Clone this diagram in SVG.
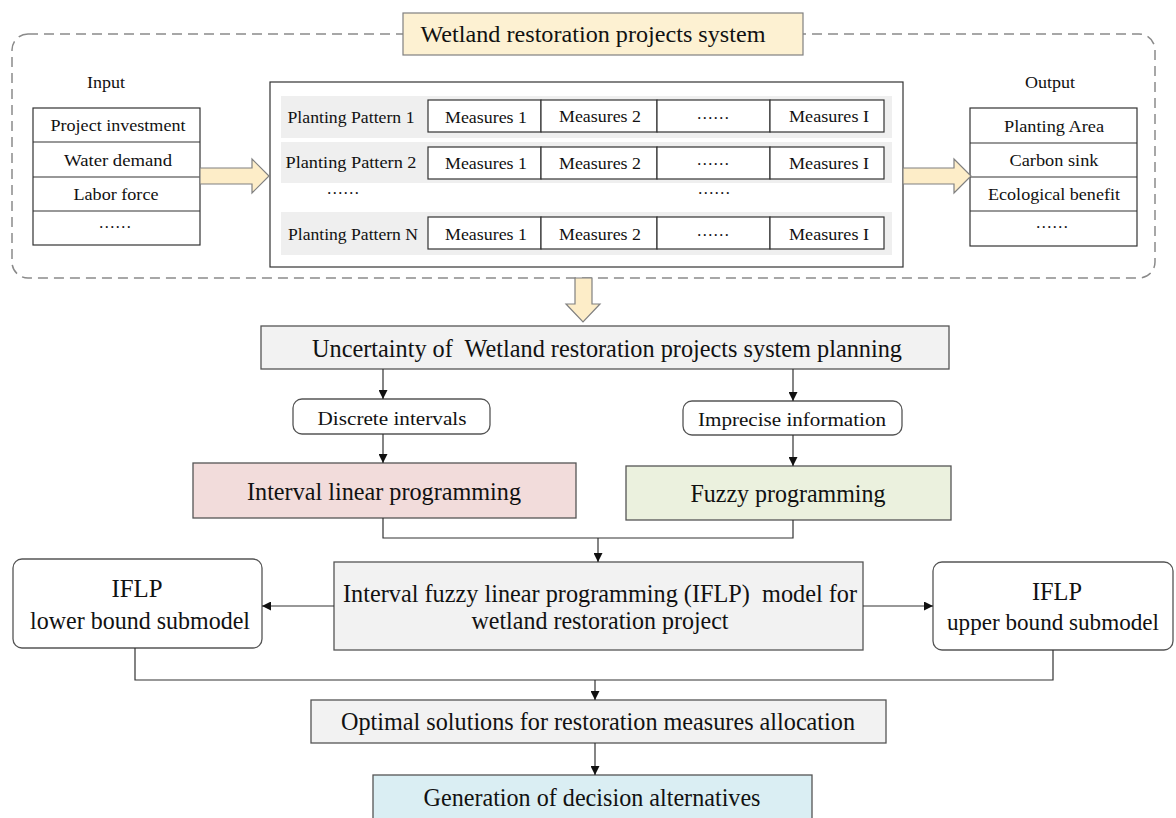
<svg xmlns="http://www.w3.org/2000/svg" width="1176" height="818" viewBox="0 0 1176 818">
<style>
text{font-family:"Liberation Serif","Times New Roman",serif;fill:#111;text-anchor:middle;dominant-baseline:central}
.s{font-size:17px}
.m{font-size:19px}
.l{font-size:23px}
.xl{font-size:26px}
.box{stroke:#555;stroke-width:1.3}
.cell{fill:#fff;stroke:#333;stroke-width:1.2}
.row{fill:#efefef}
.fat{fill:#fdedc8;stroke:#808080;stroke-width:1.2}
.con{fill:none;stroke:#333;stroke-width:1.2}
.pre{white-space:pre}
</style>
<defs>
<marker id="ah" viewBox="0 0 10 10" refX="10" refY="5" markerWidth="9" markerHeight="9" markerUnits="userSpaceOnUse" orient="auto">
<path d="M0,0 L10,5 L0,10 z" fill="#111"/>
</marker>
</defs>
<rect width="1176" height="818" fill="#fff"/>

<g id="system-frame">
<rect x="12" y="34" width="1143" height="244" rx="16" fill="none" stroke="#8a8a8a" stroke-width="1.5" stroke-dasharray="10,6"/>
</g>

<g id="title">
<rect x="403" y="13" width="400" height="42" class="fat" style="fill:#fdf1d2"/>
<text x="593" y="34" class="l" textLength="345" lengthAdjust="spacingAndGlyphs">Wetland restoration projects system</text>
</g>

<g id="input">
<text x="106" y="82" class="s" textLength="38" lengthAdjust="spacingAndGlyphs">Input</text>
<rect x="33" y="108" width="167" height="137" class="cell"/>
<line x1="33" y1="142" x2="200" y2="142" stroke="#333" stroke-width="1.2"/>
<line x1="33" y1="177" x2="200" y2="177" stroke="#333" stroke-width="1.2"/>
<line x1="33" y1="211" x2="200" y2="211" stroke="#333" stroke-width="1.2"/>
<text x="118" y="125" class="s" textLength="135" lengthAdjust="spacingAndGlyphs">Project investment</text>
<text x="118" y="160" class="s" textLength="108" lengthAdjust="spacingAndGlyphs">Water demand</text>
<text x="116" y="194" class="s" textLength="85" lengthAdjust="spacingAndGlyphs">Labor force</text>
<text x="115" y="222" class="s" textLength="33" lengthAdjust="spacingAndGlyphs">……</text>
</g>

<g id="patterns">
<rect x="270" y="82" width="633" height="185" fill="#fff" stroke="#333" stroke-width="1.2"/>
<rect x="281" y="96" width="611" height="42" class="row"/>
<rect x="281" y="142" width="611" height="41" class="row"/>
<rect x="281" y="212" width="611" height="43" class="row"/>
<text x="351" y="117" class="s" textLength="127" lengthAdjust="spacingAndGlyphs">Planting Pattern 1</text>
<text x="351" y="162" class="s" textLength="131" lengthAdjust="spacingAndGlyphs">Planting Pattern 2</text>
<text x="353" y="234" class="s" textLength="130" lengthAdjust="spacingAndGlyphs">Planting Pattern N</text>
<text x="343" y="188" class="s" textLength="33" lengthAdjust="spacingAndGlyphs">……</text>
<text x="714" y="188" class="s" textLength="33" lengthAdjust="spacingAndGlyphs">……</text>
<g id="row1">
<rect x="428" y="100" width="113" height="32" class="cell"/>
<rect x="541" y="100" width="116" height="32" class="cell"/>
<rect x="657" y="100" width="113" height="32" class="cell"/>
<rect x="770" y="100" width="114" height="32" class="cell"/>
<text x="486" y="117" class="s" textLength="82" lengthAdjust="spacingAndGlyphs">Measures 1</text>
<text x="600" y="116" class="s" textLength="82" lengthAdjust="spacingAndGlyphs">Measures 2</text>
<text x="713" y="113" class="s" textLength="33" lengthAdjust="spacingAndGlyphs">……</text>
<text x="829" y="116" class="s" textLength="80" lengthAdjust="spacingAndGlyphs">Measures I</text>
</g>
<g id="row2">
<rect x="428" y="147" width="113" height="32" class="cell"/>
<rect x="541" y="147" width="116" height="32" class="cell"/>
<rect x="657" y="147" width="113" height="32" class="cell"/>
<rect x="770" y="147" width="114" height="32" class="cell"/>
<text x="486" y="163" class="s" textLength="82" lengthAdjust="spacingAndGlyphs">Measures 1</text>
<text x="600" y="163" class="s" textLength="82" lengthAdjust="spacingAndGlyphs">Measures 2</text>
<text x="713" y="159" class="s" textLength="33" lengthAdjust="spacingAndGlyphs">……</text>
<text x="829" y="163" class="s" textLength="80" lengthAdjust="spacingAndGlyphs">Measures I</text>
</g>
<g id="rowN">
<rect x="428" y="217" width="113" height="32" class="cell"/>
<rect x="541" y="217" width="116" height="32" class="cell"/>
<rect x="657" y="217" width="113" height="32" class="cell"/>
<rect x="770" y="217" width="114" height="32" class="cell"/>
<text x="486" y="234" class="s" textLength="82" lengthAdjust="spacingAndGlyphs">Measures 1</text>
<text x="600" y="234" class="s" textLength="82" lengthAdjust="spacingAndGlyphs">Measures 2</text>
<text x="713" y="230" class="s" textLength="33" lengthAdjust="spacingAndGlyphs">……</text>
<text x="829" y="234" class="s" textLength="80" lengthAdjust="spacingAndGlyphs">Measures I</text>
</g>
</g>

<g id="output">
<text x="1050" y="82" class="s" textLength="50" lengthAdjust="spacingAndGlyphs">Output</text>
<rect x="970" y="108" width="167" height="138" class="cell"/>
<line x1="970" y1="143" x2="1137" y2="143" stroke="#333" stroke-width="1.2"/>
<line x1="970" y1="177" x2="1137" y2="177" stroke="#333" stroke-width="1.2"/>
<line x1="970" y1="211" x2="1137" y2="211" stroke="#333" stroke-width="1.2"/>
<text x="1054" y="126" class="s" textLength="100" lengthAdjust="spacingAndGlyphs">Planting Area</text>
<text x="1054" y="160" class="s" textLength="89" lengthAdjust="spacingAndGlyphs">Carbon sink</text>
<text x="1054" y="194" class="s" textLength="132" lengthAdjust="spacingAndGlyphs">Ecological benefit</text>
<text x="1052" y="222" class="s" textLength="33" lengthAdjust="spacingAndGlyphs">……</text>
</g>

<g id="uncertainty">
<rect x="261" y="326" width="688" height="43" class="box" fill="#f2f2f2"/>
<text x="607" y="348" class="xl pre" textLength="590" lengthAdjust="spacingAndGlyphs">Uncertainty of  Wetland restoration projects system planning</text>
</g>
<g id="discrete">
<rect x="293" y="399" width="197" height="35" rx="9" fill="#fff" class="box"/>
<text x="392" y="418" class="m" textLength="149" lengthAdjust="spacingAndGlyphs">Discrete intervals</text>
</g>
<g id="imprecise">
<rect x="683" y="401" width="219" height="34" rx="9" fill="#fff" class="box"/>
<text x="792" y="419" class="m" textLength="188" lengthAdjust="spacingAndGlyphs">Imprecise information</text>
</g>
<g id="interval-lp">
<rect x="193" y="463" width="383" height="55" class="box" fill="#f2dcdb"/>
<text x="384" y="491" class="xl" textLength="274" lengthAdjust="spacingAndGlyphs">Interval linear programming</text>
</g>
<g id="fuzzy">
<rect x="626" y="466" width="325" height="54" class="box" fill="#ebf1de"/>
<text x="788" y="493" class="xl" textLength="195" lengthAdjust="spacingAndGlyphs">Fuzzy programming</text>
</g>
<g id="iflp">
<rect x="334" y="562" width="529" height="88" class="box" fill="#f2f2f2"/>
<text x="600" y="593" class="xl pre" textLength="514" lengthAdjust="spacingAndGlyphs">Interval fuzzy linear programming (IFLP)  model for</text>
<text x="600" y="620" class="xl" textLength="257" lengthAdjust="spacingAndGlyphs">wetland restoration project</text>
</g>
<g id="lower">
<rect x="13" y="559" width="249" height="89" rx="9" fill="#fff" class="box"/>
<text x="137" y="588" class="xl" textLength="51" lengthAdjust="spacingAndGlyphs">IFLP</text>
<text x="140" y="620" class="xl" textLength="220" lengthAdjust="spacingAndGlyphs">lower bound submodel</text>
</g>
<g id="upper">
<rect x="933" y="562" width="240" height="88" rx="9" fill="#fff" class="box"/>
<text x="1057" y="591" class="xl" textLength="50" lengthAdjust="spacingAndGlyphs">IFLP</text>
<text x="1053" y="622" style="font-size:23px" textLength="212" lengthAdjust="spacingAndGlyphs">upper bound submodel</text>
</g>
<g id="optimal">
<rect x="311" y="700" width="575" height="43" class="box" fill="#f2f2f2"/>
<text x="598" y="721" class="xl" textLength="514" lengthAdjust="spacingAndGlyphs">Optimal solutions for restoration measures allocation</text>
</g>
<g id="generation">
<rect x="373" y="775" width="439" height="50" class="box" fill="#daeef3"/>
<text x="592" y="797" class="xl" textLength="337" lengthAdjust="spacingAndGlyphs">Generation of decision alternatives</text>
</g>

<g id="connectors">
<path class="fat" d="M200,168 H252 V159 L269,176 L252,193 V184 H200 Z"/>
<path class="fat" d="M903,168 H954 V159 L971,176 L954,193 V184 H903 Z"/>
<path class="fat" d="M575,278 H592 V304 H600 L583,322 L566,304 H575 Z"/>
<line x1="383" y1="369" x2="383" y2="399" class="con" marker-end="url(#ah)"/>
<line x1="793" y1="369" x2="793" y2="401" class="con" marker-end="url(#ah)"/>
<line x1="383" y1="434" x2="383" y2="463" class="con" marker-end="url(#ah)"/>
<line x1="793" y1="435" x2="793" y2="466" class="con" marker-end="url(#ah)"/>
<path d="M383,518 V538 H793 V520" class="con"/>
<line x1="598" y1="538" x2="598" y2="562" class="con" marker-end="url(#ah)"/>
<line x1="334" y1="606" x2="262" y2="606" class="con" marker-end="url(#ah)"/>
<line x1="863" y1="606" x2="933" y2="606" class="con" marker-end="url(#ah)"/>
<path d="M135,648 V680 H1053 V650" class="con"/>
<line x1="595" y1="680" x2="595" y2="700" class="con" marker-end="url(#ah)"/>
<line x1="595" y1="743" x2="595" y2="775" class="con" marker-end="url(#ah)"/>
</g>
</svg>
